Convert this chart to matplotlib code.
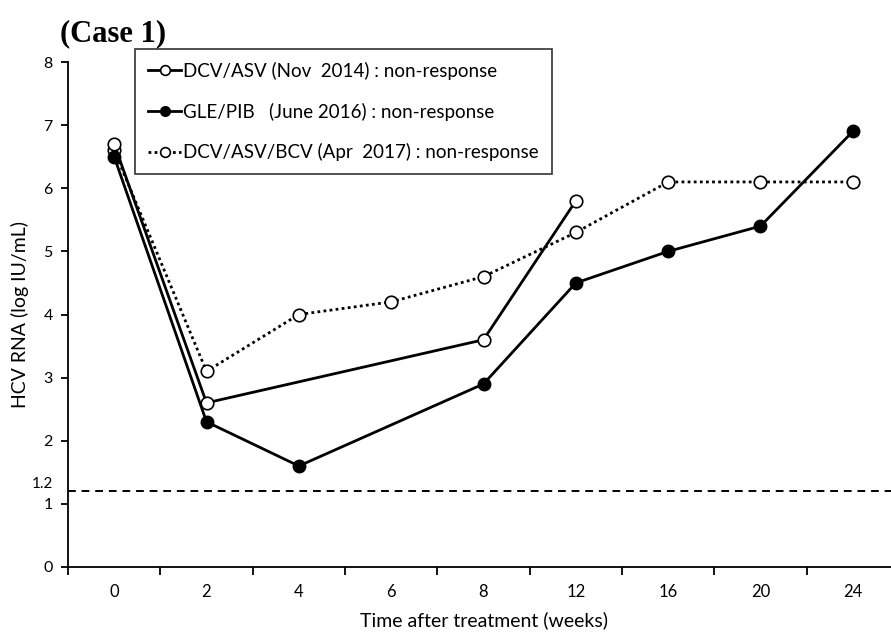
import numpy as np
import matplotlib.pyplot as plt
from matplotlib.ticker import FixedLocator

weeks = ["0", "2", "4", "6", "8", "12", "16", "20", "24"]

# DCV/ASV (Nov 2014)
dcv_asv_idx = [0, 1, 4, 5]
dcv_asv = [6.7, 2.6, 3.6, 5.8]

# GLE/PIB (June 2016)
gle_pib_idx = [0, 1, 2, 4, 5, 6, 7, 8]
gle_pib = [6.5, 2.3, 1.6, 2.9, 4.5, 5.0, 5.4, 6.9]

# DCV/ASV/BCV (Apr 2017)
dcv_bcv_idx = [0, 1, 2, 3, 4, 5, 6, 7, 8]
dcv_bcv = [6.6, 3.1, 4.0, 4.2, 4.6, 5.3, 6.1, 6.1, 6.1]

lloq = 1.2
ytick_vals = [0, 1, 2, 3, 4, 5, 6, 7, 8]

plt.rcParams['font.family'] = ['Lato', 'DejaVu Sans']

fig = plt.figure(figsize=(8.91, 6.33), dpi=100)
ax = fig.add_axes([68 / 891, 1 - 567 / 633, 831 / 891, (567 - 62) / 633])

ax.plot(dcv_bcv_idx, dcv_bcv, color='black', lw=2, linestyle=(0, (1, 1.2)),
        marker='o', ms=9, mfc='white', mec='black', mew=1.2,
        label='DCV/ASV/BCV (Apr  2017) : non-response', zorder=3)
ax.plot(gle_pib_idx, gle_pib, color='black', lw=2,
        marker='o', ms=9, mfc='black', mec='black',
        label='GLE/PIB   (June 2016) : non-response', zorder=4)
ax.plot(dcv_asv_idx, dcv_asv, color='black', lw=2,
        marker='o', ms=9, mfc='white', mec='black', mew=1.2,
        label='DCV/ASV (Nov  2014) : non-response', zorder=5)

ax.axhline(lloq, color='black', lw=1.4, linestyle=(0, (4, 3)), zorder=1)

ax.set_xlim(-0.5, 8.5)
ax.set_ylim(0, 8)

ax.spines['top'].set_visible(False)
ax.spines['right'].set_visible(False)
for s in ['left', 'bottom']:
    ax.spines[s].set_linewidth(1.3)

ax.set_xticks(range(len(weeks)))
ax.set_xticklabels(weeks, fontsize=12)
ax.tick_params(axis='x', which='major', length=0, pad=12)
ax.xaxis.set_minor_locator(FixedLocator(np.arange(-0.5, 9, 1)))
ax.tick_params(axis='x', which='minor', length=6, width=1.3, direction='out')

ax.set_yticks(ytick_vals + [lloq])
ax.set_yticklabels([str(v) for v in ytick_vals] + ["1.2"], fontsize=11.5)
ax.tick_params(axis='y', length=5, width=1.3, direction='out', pad=6)
# the 1.2 label has no tick mark and sits just above the line
lloq_tick = ax.yaxis.get_major_ticks()[-1]
lloq_tick.tick1line.set_visible(False)
lloq_tick.label1.set_va('bottom')
lloq_tick.label1.set_fontsize(11)

ax.set_xlabel("Time after treatment (weeks)", fontsize=14, labelpad=8)
ax.set_ylabel("HCV RNA (log IU/mL)", fontsize=14, labelpad=2)

handles, labels = ax.get_legend_handles_labels()
leg = ax.legend(handles[::-1], labels[::-1], loc='upper left',
                bbox_to_anchor=(67 / 831, 1.026), borderaxespad=0,
                fontsize=13.5, frameon=True, fancybox=False, edgecolor='black',
                handlelength=1.75, handletextpad=0.1, labelspacing=1.2,
                borderpad=0.7)
leg.get_frame().set_linewidth(1.2)
for h in leg.legend_handles:
    h.set_markersize(7)

fig.text(60 / 891, 1 - 34 / 633, "(Case 1)", fontsize=22, fontweight='bold',
         family='Liberation Serif', va='center', ha='left')

fig.savefig("out.png", dpi=100)
